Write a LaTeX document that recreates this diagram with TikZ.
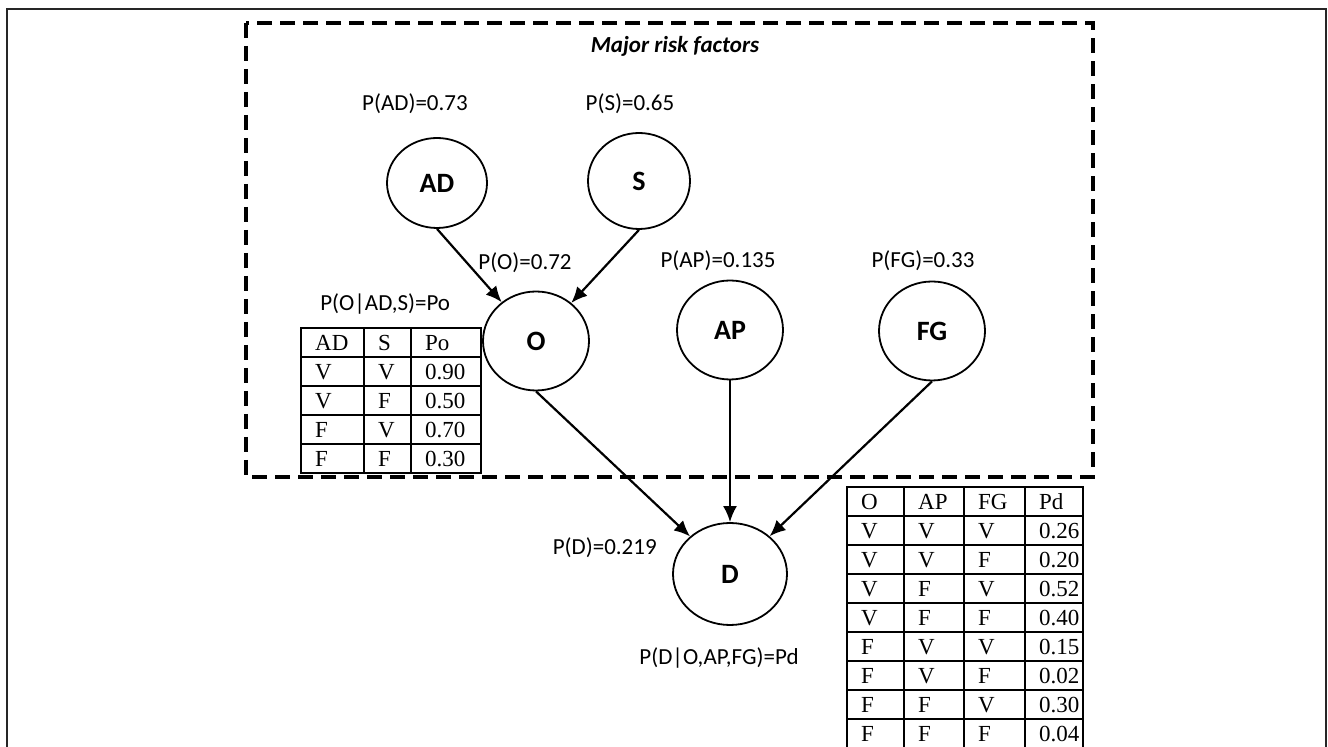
\documentclass[tikz,border=0pt]{standalone}
\usepackage{fontspec}
\setmainfont{Carlito}
\newfontfamily\tabfont{Liberation Serif}
\usetikzlibrary{shapes.geometric, positioning, arrows.meta, matrix}

\begin{document}
\begin{tikzpicture}[x=0.5pt, y=-0.5pt,
    varnode/.style={ellipse, draw, line width=0.9pt, inner sep=0pt,
      minimum width=53pt, minimum height=49.5pt,
      font=\fontsize{14}{16}\selectfont\bfseries},
    problabel/.style={inner sep=0pt, font=\fontsize{11.5}{14}\selectfont},
    cpt/.style={matrix of nodes, inner sep=0pt, line width=1.1pt,
      row sep=-\pgflinewidth, column sep=-\pgflinewidth,
      nodes={draw, align=left, inner xsep=7pt, inner ysep=0pt,
        text height=7.6pt, text depth=0pt, minimum height=14.5pt,
        font=\tabfont\fontsize{11.5}{14}\selectfont}},
    link/.style={-{Latex[length=8pt, width=7pt]}, line width=1.1pt}]
    \useasboundingbox (0,0) rectangle (1328,747);%

    % page frame
    \draw [line width=1.2pt, black!85] (7,760) -- (7,9) -- (1326,9) --
    (1326,760);%

    % Major risk factors
    \draw [line width=2pt, dash pattern=on 7.5pt off 4pt] (246,23) rectangle
    (1093,477);%
    \node [problabel, font=\fontsize{11.5}{14}\selectfont\bfseries\itshape]
    (title) at (675,46) {Major risk factors};%

    % -- parents of O
    \node [varnode, minimum width=50pt, minimum height=45pt] (AD) at (437,183)
    {AD};%
    \node [problabel, above=11.5pt of AD, xshift=-11pt] (pAD) {P(AD)=0.73};%
    \node [varnode, minimum width=51pt, minimum height=48pt] (S) at (639,181)
    {S};%
    \node [problabel, above=9pt of S, xshift=-4.5pt] (pS) {P(S)=0.65};%

    % -- O, AP, FG
    \node [varnode] (O) at (536,341) {O};%
    \node [problabel, above=9pt of O, xshift=-5.5pt] (pO) {P(O)=0.72};%
    \node [varnode] (AP) at (730,330) {AP};%
    \node [problabel, above=4.5pt of AP, xshift=-6pt] (pAP) {P(AP)=0.135};%
    \node [varnode] (FG) at (932,331) {FG};%
    \node [problabel, above=5pt of FG, xshift=-4.5pt] (pFG) {P(FG)=0.33};%

    % -- table of O
    \matrix [cpt, anchor=north west,
      column 1/.style={nodes={text width=17.5pt}},
      column 2/.style={nodes={text width=9.5pt}},
      column 3/.style={nodes={text width=21pt}}] (cptO) at (299,326) {
      AD & S & Po \\
      V & V & 0.90 \\
      V & F & 0.50 \\
      F & V & 0.70 \\
      F & F & 0.30 \\
    };%
    \node [problabel, above=5.5pt of cptO, xshift=-3pt] (pOcond)
    {P(O|AD,S)=Po};%

    % D
    \node [varnode, minimum width=57pt, minimum height=51pt] (D) at (730,574)
    {D};%
    \node [problabel, left=7.5pt of D, yshift=13pt] (pD) {P(D)=0.219};%
    \node [problabel, below=10.5pt of D, xshift=-5.5pt] (pDcond)
    {P(D|O,AP,FG)=Pd};%

    % -- table of D
    \matrix [cpt, anchor=north west,
      column 1/.style={nodes={text width=14.5pt}},
      column 2/.style={nodes={text width=16pt}},
      column 3/.style={nodes={text width=16.5pt}},
      column 4/.style={nodes={text width=15pt}}] (cptD) at (845,485) {
      O & AP & FG & Pd \\
      V & V & V & 0.26 \\
      V & V & F & 0.20 \\
      V & F & V & 0.52 \\
      V & F & F & 0.40 \\
      F & V & V & 0.15 \\
      F & V & F & 0.02 \\
      F & F & V & 0.30 \\
      F & F & F & 0.04 \\
    };%

    % arrows
    \draw [link] (AD.south) -- (O);%
    \draw [link] (S.south) -- (O);%
    \draw [link] (O.south) -- (D);%
    \draw [link] (AP.south) -- (D.north);%
    \draw [link] (FG.south) -- (D);
\end{tikzpicture}
\end{document}
